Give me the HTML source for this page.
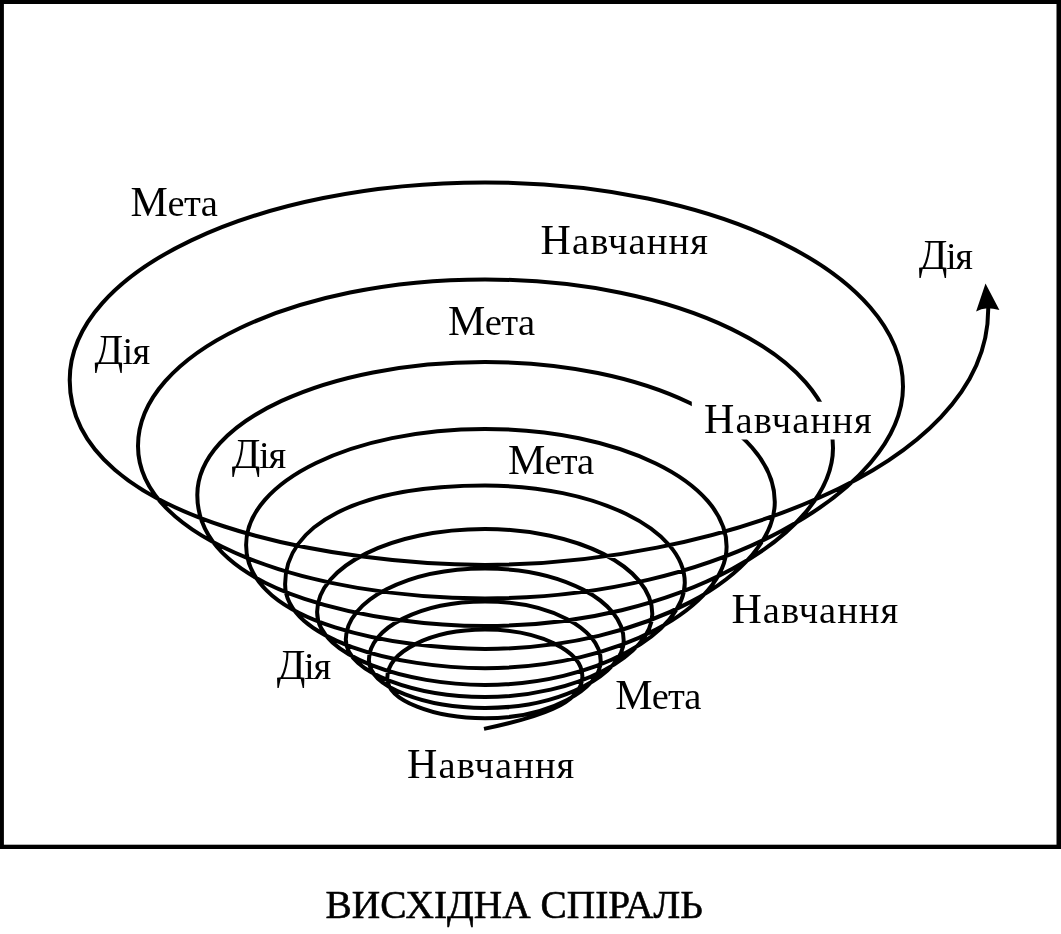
<!DOCTYPE html>
<html><head><meta charset="utf-8"><style>
html,body{margin:0;padding:0;background:#fff;}
body{width:1061px;height:934px;position:relative;overflow:hidden;}
svg{position:absolute;left:0;top:0;will-change:transform;}
text{font-family:"Liberation Serif",serif;font-size:41px;fill:#000;}
.c{font-size:42.0px;}
.l{font-size:38.5px;}
</style></head><body>
<svg width="1061" height="934" viewBox="0 0 1061 934">
<rect x="0" y="0" width="1061" height="4" fill="#000"/><rect x="0" y="0" width="3.9" height="849" fill="#000"/><rect x="1056.5" y="0" width="4.5" height="849" fill="#000"/><rect x="0" y="844.7" width="1061" height="4.3" fill="#000"/>
<path d="M484,728.9 C536,717.9 582.4,704.4 582.4,676.4 C582.4,650.6 538.8,629.6 485,629.6 C431,629.6 387.3,651.4 387.3,678.2 C387.3,700.7 434.2,718.3 485,718.3 C549.8,718.3 600.7,688.5 600.7,661 C600.7,628.1 548.9,601.5 485,601.5 C420.9,601.5 368.9,627.7 368.9,660 C368.9,687.8 426.9,708 485,708 C562.7,708 623.7,673 623.7,640.7 C623.7,600.8 561.6,568.5 485,568.5 C408.1,568.5 345.8,600.3 345.8,639.6 C345.8,674 418.2,697 485,697 C578.7,697 652.3,653.8 652.3,613.9 C652.3,567 577.4,529 485,529 C392.3,529 317.1,566.2 317.1,612.1 C317.1,657.2 407.8,684.9 485,684.9 C596.9,684.9 684.8,631.8 684.8,582.8 C684.8,529.1 595.3,485.5 485,485.5 C357.1,485.5 285.1,525 285.1,584.3 C285.1,639.7 397,668.2 485,668.2 C620.3,668.2 726.6,605 726.6,546.7 C726.6,481.7 618.4,429 485,429 C353.1,429 246.1,480.9 246.1,545 C246.1,626 403.8,648.9 485,648.9 C647.3,648.9 774.8,572.5 774.8,502 C774.8,424.7 645,362 485,362 C326.1,362 197.3,421.5 197.3,495 C197.3,597.2 387.2,626 485,626 C679.9,626 833,533.4 833,448 C833,354.9 677.2,279.5 485,279.5 C293.4,279.5 138,354 138,446 C138,540.5 311.5,598.4 485,598.4 C719.1,598.4 903,488.4 903,386.8 C903,274 715.9,182.5 485,182.5 C255.6,182.5 69.7,270.9 69.7,380 C69.7,524.2 343.8,564.9 485,564.9 C706.4,564.9 988.2,470.4 988.2,309.5 L988.2,304.5" fill="none" stroke="#000" stroke-width="4.0" stroke-linecap="butt" stroke-linejoin="round"/>
<path d="M985.5,283.5 L999.4,310.1 Q993,308.3 987.2,308.3 Q981,308.6 976.1,311.6 Z" fill="#000"/>
<rect x="691.8" y="401.7" width="182.4" height="37.8" fill="#fff"/>
<text x="130.62" y="216.00" textLength="87.32" lengthAdjust="spacing"><tspan class="c">М</tspan><tspan class="l">ета</tspan></text>
<text x="540.48" y="254.00" textLength="167.60" lengthAdjust="spacing"><tspan class="c">Н</tspan><tspan class="l">авчання</tspan></text>
<text x="918.64" y="269.00" textLength="54.30" lengthAdjust="spacing"><tspan class="c">Д</tspan><tspan class="l">ія</tspan></text>
<text x="94.56" y="363.60" textLength="55.74" lengthAdjust="spacing"><tspan class="c">Д</tspan><tspan class="l">ія</tspan></text>
<text x="448.12" y="334.70" textLength="86.96" lengthAdjust="spacing"><tspan class="c">М</tspan><tspan class="l">ета</tspan></text>
<text x="704.04" y="432.50" textLength="167.76" lengthAdjust="spacing"><tspan class="c">Н</tspan><tspan class="l">авчання</tspan></text>
<text x="231.78" y="467.70" textLength="54.38" lengthAdjust="spacing"><tspan class="c">Д</tspan><tspan class="l">ія</tspan></text>
<text x="508.12" y="473.70" textLength="85.96" lengthAdjust="spacing"><tspan class="c">М</tspan><tspan class="l">ета</tspan></text>
<text x="731.48" y="622.60" textLength="166.68" lengthAdjust="spacing"><tspan class="c">Н</tspan><tspan class="l">авчання</tspan></text>
<text x="276.78" y="678.60" textLength="54.38" lengthAdjust="spacing"><tspan class="c">Д</tspan><tspan class="l">ія</tspan></text>
<text x="615.26" y="708.70" textLength="86.18" lengthAdjust="spacing"><tspan class="c">М</tspan><tspan class="l">ета</tspan></text>
<text x="407.12" y="778.00" textLength="167.18" lengthAdjust="spacing"><tspan class="c">Н</tspan><tspan class="l">авчання</tspan></text>
<text x="325.6" y="918.0" textLength="377.2" lengthAdjust="spacingAndGlyphs" style="font-size:41px;stroke:#000;stroke-width:0.6px">ВИСХІДНА СПІРАЛЬ</text>
</svg>
</body></html>
